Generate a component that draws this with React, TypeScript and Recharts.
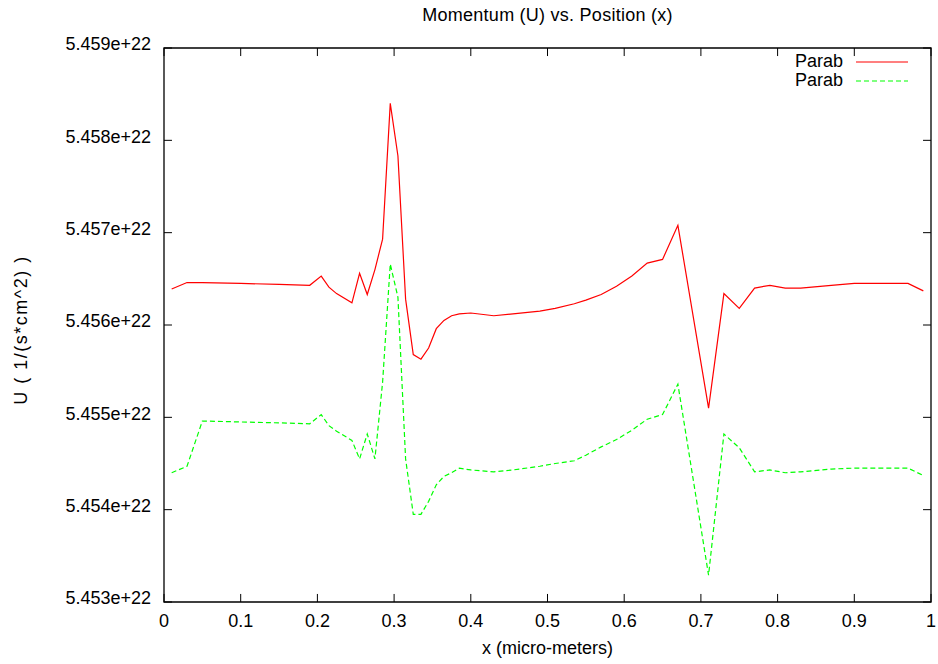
import React from "react";
import { LineChart, Line, XAxis, YAxis, ReferenceArea, ReferenceLine } from "recharts";

const xValues = [
  0.01, 0.03, 0.05, 0.1, 0.15, 0.19, 0.205, 0.215, 0.225, 0.245, 0.255, 0.265, 0.275, 0.285,
  0.295, 0.305, 0.315, 0.325, 0.335, 0.345, 0.355, 0.365, 0.375, 0.385, 0.4, 0.43, 0.455,
  0.49, 0.51, 0.535, 0.55, 0.57, 0.59, 0.61, 0.63, 0.65, 0.67, 0.71, 0.73, 0.75, 0.77, 0.79,
  0.81, 0.83, 0.87, 0.9, 0.97, 0.99,
];

const parabRed = [
  5.45639e22, 5.45646e22, 5.45646e22, 5.45645e22, 5.45644e22, 5.45643e22, 5.45653e22,
  5.45641e22, 5.45634e22, 5.45624e22, 5.45656e22, 5.45633e22, 5.4566e22, 5.45693e22,
  5.4584e22, 5.45783e22, 5.45628e22, 5.45568e22, 5.45563e22, 5.45575e22, 5.45596e22,
  5.45605e22, 5.4561e22, 5.45612e22, 5.45613e22, 5.4561e22, 5.45612e22, 5.45615e22,
  5.45618e22, 5.45623e22, 5.45627e22, 5.45633e22, 5.45642e22, 5.45653e22, 5.45667e22,
  5.45671e22, 5.45708e22, 5.4551e22, 5.45634e22, 5.45618e22, 5.4564e22, 5.45643e22,
  5.4564e22, 5.4564e22, 5.45643e22, 5.45645e22, 5.45645e22, 5.45637e22,
];

const parabGreen = [
  5.4544e22, 5.45447e22, 5.45496e22, 5.45495e22, 5.45494e22, 5.45493e22, 5.45503e22,
  5.45491e22, 5.45485e22, 5.45475e22, 5.45455e22, 5.45482e22, 5.45455e22, 5.45538e22,
  5.45666e22, 5.4563e22, 5.45455e22, 5.45395e22, 5.45395e22, 5.45409e22, 5.45427e22,
  5.45436e22, 5.4544e22, 5.45445e22, 5.45443e22, 5.45441e22, 5.45443e22, 5.45447e22,
  5.4545e22, 5.45453e22, 5.45459e22, 5.45468e22, 5.45476e22, 5.45486e22, 5.45498e22,
  5.45503e22, 5.45536e22, 5.45329e22, 5.45482e22, 5.45467e22, 5.45441e22, 5.45443e22,
  5.4544e22, 5.45441e22, 5.45444e22, 5.45445e22, 5.45445e22, 5.45437e22,
];

const xTicks = [0, 0.1, 0.2, 0.3, 0.4, 0.5, 0.6, 0.7, 0.8, 0.9, 1];
const yTicks = [5.453e22, 5.454e22, 5.455e22, 5.456e22, 5.457e22, 5.458e22, 5.459e22];
const yTickLabels = ["5.453e+22", "5.454e+22", "5.455e+22", "5.456e+22", "5.457e+22", "5.458e+22", "5.459e+22"];
const seriesNames = ["Parab", "Parab"];
const titleText = "Momentum (U) vs. Position (x)";
const xLabelText = "x (micro-meters)";
const yLabelText = "U ( 1/(s*cm^2) )";

const X_MIN = 0;
const X_MAX = 1;
const Y_MIN = 5.453e22;
const Y_MAX = 5.459e22;
// inward tick length, in data units (about 8 px)
const X_TICK_LEN = (X_MAX - X_MIN) * 0.0104;
const Y_TICK_LEN = (Y_MAX - Y_MIN) * 0.0145;

const data = xValues.map((x, i) => ({ x, red: parabRed[i], green: parabGreen[i] }));

const FONT = "'Liberation Sans', Arial, sans-serif";
const FS = 18;

const XTick = (props: any) => {
  const { x, y, payload } = props;
  return (
    <text x={x} y={y} dy="0.71em" textAnchor="middle" fontFamily={FONT} fontSize={FS} fill="#000">
      {String(payload.value)}
    </text>
  );
};

const YTick = (props: any) => {
  const { x, y, payload } = props;
  const idx = yTicks.indexOf(payload.value);
  const label = idx >= 0 ? yTickLabels[idx] : String(payload.value);
  return (
    <text x={x} y={y - 4} dy="0.355em" textAnchor="end" fontFamily={FONT} fontSize={FS} fill="#000">
      {label}
    </text>
  );
};

export default function App() {
  const tickStyle = { stroke: "#000", strokeWidth: 1 };
  return (
    <div style={{ position: "absolute", left: 0, top: 0, width: 938, height: 664, background: "#fff", fontFamily: FONT }}>
      <LineChart
        width={938}
        height={664}
        data={data}
        margin={{ top: 48, right: 7, bottom: 32, left: 104 }}
      >
        <XAxis
          dataKey="x"
          type="number"
          domain={[X_MIN, X_MAX]}
          ticks={xTicks}
          height={30}
          tickSize={0}
          tickMargin={12}
          tick={<XTick />}
          axisLine={false}
          tickLine={false}
          allowDataOverflow
        />
        <YAxis
          type="number"
          domain={[Y_MIN, Y_MAX]}
          ticks={yTicks}
          width={60}
          tickSize={0}
          tickMargin={13}
          tick={<YTick />}
          axisLine={false}
          tickLine={false}
          allowDataOverflow
        />
        <ReferenceArea
          x1={X_MIN}
          x2={X_MAX}
          y1={Y_MIN}
          y2={Y_MAX}
          fill="none"
          fillOpacity={0}
          stroke="#000"
          strokeWidth={1.3}
          ifOverflow="visible"
        />
        {xTicks.map((t) => (
          <ReferenceLine
            key={"xb" + t}
            segment={[{ x: t, y: Y_MIN }, { x: t, y: Y_MIN + Y_TICK_LEN }]}
            {...tickStyle}
            ifOverflow="visible"
          />
        ))}
        {xTicks.map((t) => (
          <ReferenceLine
            key={"xt" + t}
            segment={[{ x: t, y: Y_MAX }, { x: t, y: Y_MAX - Y_TICK_LEN }]}
            {...tickStyle}
            ifOverflow="visible"
          />
        ))}
        {yTicks.map((t) => (
          <ReferenceLine
            key={"yl" + t}
            segment={[{ x: X_MIN, y: t }, { x: X_MIN + X_TICK_LEN, y: t }]}
            {...tickStyle}
            ifOverflow="visible"
          />
        ))}
        {yTicks.map((t) => (
          <ReferenceLine
            key={"yr" + t}
            segment={[{ x: X_MAX, y: t }, { x: X_MAX - X_TICK_LEN, y: t }]}
            {...tickStyle}
            ifOverflow="visible"
          />
        ))}
        <Line
          dataKey="red"
          name={seriesNames[0]}
          type="linear"
          stroke="#ff0000"
          strokeWidth={1.2}
          dot={false}
          activeDot={false}
          isAnimationActive={false}
        />
        <Line
          dataKey="green"
          name={seriesNames[1]}
          type="linear"
          stroke="#00ff00"
          strokeWidth={1.2}
          strokeDasharray="5 3"
          dot={false}
          activeDot={false}
          isAnimationActive={false}
        />
      </LineChart>

      <div style={{ position: "absolute", left: 247.5, top: 5, width: 600, textAlign: "center", fontSize: FS, lineHeight: "20px", color: "#000", letterSpacing: "0.25px" }}>
        {titleText}
      </div>
      <div style={{ position: "absolute", left: 247.5, top: 638, width: 600, textAlign: "center", fontSize: FS, lineHeight: "20px", color: "#000" }}>
        {xLabelText}
      </div>
      <div
        style={{
          position: "absolute",
          left: 21 - 150,
          top: 330 - 10,
          width: 300,
          height: 20,
          textAlign: "center",
          fontSize: FS,
          lineHeight: "20px",
          color: "#000",
          letterSpacing: "1.5px",
          transform: "rotate(-90deg)",
          transformOrigin: "center center",
        }}
      >
        {yLabelText}
      </div>

      <div style={{ position: "absolute", left: 700, top: 52, width: 143, textAlign: "right", fontSize: FS, lineHeight: "19px", color: "#000" }}>
        <div>{seriesNames[0]}</div>
        <div>{seriesNames[1]}</div>
      </div>
      <svg style={{ position: "absolute", left: 850, top: 52 }} width={70} height={40}>
        <line x1={6} y1={10} x2={58} y2={10} stroke="#ff0000" strokeWidth={1.2} />
        <line x1={6} y1={29} x2={58} y2={29} stroke="#00ff00" strokeWidth={1.2} strokeDasharray="5 3" />
      </svg>
    </div>
  );
}
